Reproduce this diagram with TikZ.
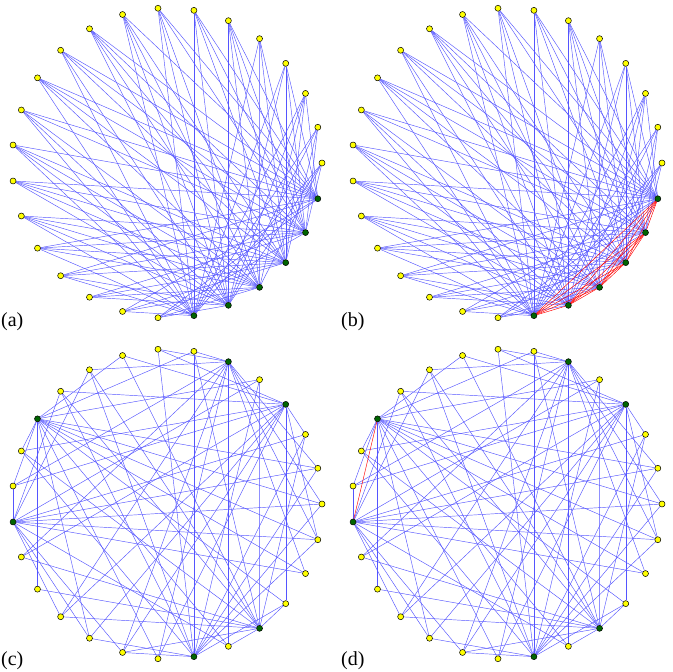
\documentclass[tikz,border=0pt]{standalone}
\usepackage{fontspec}
\setmainfont{Liberation Serif}
\usetikzlibrary{backgrounds}
\definecolor{edgeblue}{RGB}{85,85,255}
\definecolor{gnode}{RGB}{0,100,0}
\definecolor{ynode}{RGB}{255,255,0}
\tikzset{
 vtx/.style={circle, draw=black, line width=0.5pt, inner sep=0pt, minimum size=6pt},
 yv/.style={vtx, fill=ynode},
 gv/.style={vtx, fill=gnode},
 blueedge/.style={draw=edgeblue, line width=0.45pt},
 rededge/.style={draw=red, line width=0.45pt},
 lab/.style={font=\fontsize{20}{24}\selectfont, anchor=base west, inner sep=0pt}
}
\newcommand\myaedges[1]{%
 \foreach \y/\gs in {0/{21,22,23,25},1/{21,22,24,25},2/{21,22,23,24,26},3/{21,22,24,25,26},4/{21,23,24,25},5/{22,23,24,25,26},6/{21,22,24,25,26},7/{21,22,23,25,26},8/{21,22,23,24,26},9/{22,23,24,25,26},10/{21,22,24,25,26},11/{21,23,24,25,26},12/{21,22,23,25,26},13/{21,22,23,24,26},14/{22,23,24,25,26},15/{21,22,23,24,25},16/{21,23,24,25,26},17/{21,22,24,25,26},18/{22,23,24,25},19/{21,23,24,26},20/{22,23,25,26}}
  {\foreach \g in \gs {\draw[blueedge] (#1\y) -- (#1\g);}}%
}
\newcommand\mycedges[1]{%
 \foreach \g/\ys in {3/{7,8,15,18,24,2,10,12,13,17,20,26,19},5/{22,7,6,0,1,26,25,9,13,15,17,19,20},11/{16,6,8,12,13,4,0,1,24,26,22,18,20,25},14/{13,0,26,1,25,22,19,18,17,4,2,9,10},21/{7,18,19,9,10,2,1,0,4,12,26,6,24},23/{4,16,17,19,22,24,8,9,10,12,2,6,15}}
  {\foreach \y in \ys {\draw[blueedge] (#1\g) -- (#1\y);}}%
}
\begin{document}
\begin{tikzpicture}[x=1pt,y=1pt]
\useasboundingbox (0,0) rectangle (672,672);
% panel (a)
\foreach \k in {0,...,20} \node[yv] (a\k) at ([shift={(167,509)}]{\k*40/3}:155pt) {};
\foreach \k in {21,...,26} \node[gv] (a\k) at ([shift={(167,509)}]{\k*40/3}:155pt) {};
% panel (b)
\foreach \k in {0,...,20} \node[yv] (b\k) at ([shift={(507,509)}]{\k*40/3}:155pt) {};
\foreach \k in {21,...,26} \node[gv] (b\k) at ([shift={(507,509)}]{\k*40/3}:155pt) {};
% panel (c)
\foreach \k in {0,1,2,4,6,7,8,9,10,12,13,15,16,17,18,19,20,22,24,25,26} \node[yv] (c\k) at ([shift={(167,168)}]{\k*40/3}:155pt) {};
\foreach \k in {3,5,11,14,21,23} \node[gv] (c\k) at ([shift={(167,168)}]{\k*40/3}:155pt) {};
% panel (d)
\foreach \k in {0,1,2,4,6,7,8,9,10,12,13,15,16,17,18,19,20,22,24,25,26} \node[yv] (d\k) at ([shift={(507,168)}]{\k*40/3}:155pt) {};
\foreach \k in {3,5,11,14,21,23} \node[gv] (d\k) at ([shift={(507,168)}]{\k*40/3}:155pt) {};
\begin{scope}[on background layer]
\myaedges{a}
\myaedges{b}
\foreach \i in {21,...,26} {\foreach \j in {21,...,26} {\ifnum\i<\j \draw[rededge] (b\i) -- (b\j);\fi}}
\mycedges{c}
\mycedges{d}
\draw[rededge] (d11) -- (d14);
\end{scope}
\node[lab] (la) at (1,345) {(a)};
\node[lab] (lb) at (341,345) {(b)};
\node[lab] (lc) at (1,6) {(c)};
\node[lab] (ld) at (341,6) {(d)};
\end{tikzpicture}
\end{document}
